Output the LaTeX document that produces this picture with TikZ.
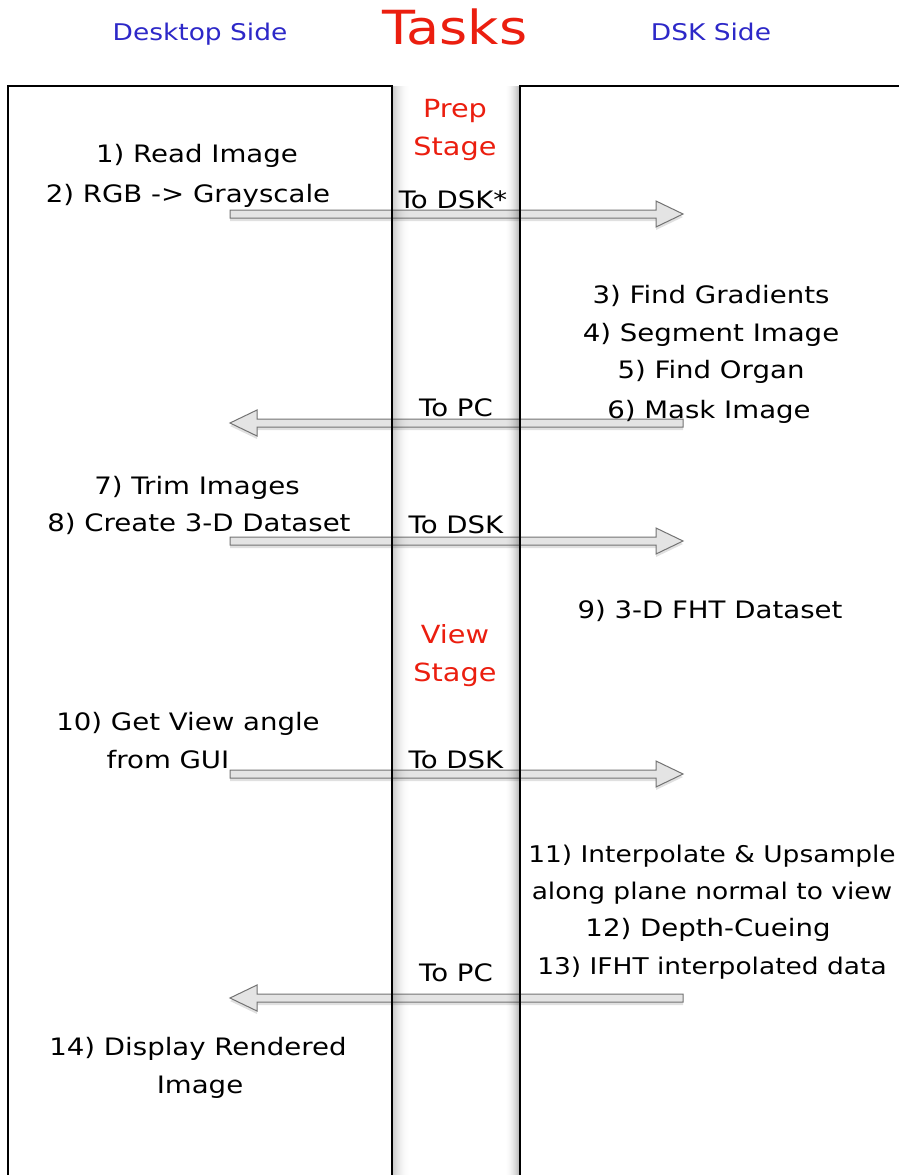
\documentclass[tikz,border=0pt]{standalone}
\usepackage{fontspec}
\setmainfont{DejaVu Sans}[FakeStretch=1.15]
\usetikzlibrary{calc}
\definecolor{headblue}{RGB}{45,40,200}
\definecolor{stagered}{RGB}{235,30,15}
\definecolor{arrowline}{RGB}{115,115,115}
\definecolor{arrowfill}{RGB}{228,228,228}

\begin{document}
\begin{tikzpicture}[x=1pt,y=-1pt,
  lbl/.style={font=\fontsize{24}{28}\selectfont, anchor=base, inner sep=0pt, text=black},
  lblwide/.style={lbl, font=\fontsize{23}{28}\selectfont},
  hdr/.style={font=\fontsize{23}{26}\selectfont, anchor=base, inner sep=0pt, text=headblue},
  stg/.style={font=\fontsize{25}{28}\selectfont, anchor=base, inner sep=0pt, text=stagered},
  chn/.style={font=\fontsize{24}{28}\selectfont, anchor=base, inner sep=0pt, text=black},
  ttl/.style={font=\fontsize{47}{52}\selectfont, anchor=base, inner sep=0pt, text=stagered},
  lane/.style={draw=black, line width=1.4pt},
  % hollow block arrow built from the two end points
  fatarrow/.style={to path={
      ($(\tikztostart)+(0,4)$) -- ($(\tikztotarget)!27pt!(\tikztostart)+(0,4)$)
      -- ($(\tikztotarget)!27pt!(\tikztostart)+(0,13)$) -- (\tikztotarget)
      -- ($(\tikztotarget)!27pt!(\tikztostart)+(0,-13)$)
      -- ($(\tikztotarget)!27pt!(\tikztostart)+(0,-4)$)
      -- ($(\tikztostart)+(0,-4)$) -- cycle}},
  msg/.style={fatarrow, draw=arrowline, fill=arrowfill, line width=1pt, line join=miter},
  msgshadow/.style={fatarrow, fill=black, opacity=0.12, draw=none},
]
\useasboundingbox (0,0) rectangle (898,1175);
\fill[white] (0,0) rectangle (898,1175);

% column headings
\node[hdr] (deskhead) at (200,40) {Desktop Side};
\node[ttl] (title) at (455,44) {Tasks};
\node[hdr] (dskhead) at (711,40) {DSK Side};

% message end points
\coordinate (a1s) at (230,214); \coordinate (a1e) at (683,214);
\coordinate (a2s) at (683,423); \coordinate (a2e) at (230,423);
\coordinate (a3s) at (230,541); \coordinate (a3e) at (683,541);
\coordinate (a4s) at (230,774); \coordinate (a4e) at (683,774);
\coordinate (a5s) at (683,998); \coordinate (a5e) at (230,998);

% messages between the two sides
\foreach \s/\e in {a1s/a1e,a2s/a2e,a3s/a3e,a4s/a4e,a5s/a5e}{
  \path[msgshadow, transform canvas={yshift=-3pt}] (\s) to (\e);
  \draw[msg] (\s) to (\e);
}

% inner shadows of the middle channel
\foreach \i in {0,...,17}{
  \fill[black, opacity={0.22*(1-\i/18)*(1-\i/18)}] (392+\i,86) rectangle (393+\i,1175);
}
\foreach \i in {0,...,14}{
  \fill[black, opacity={0.28*(1-\i/15)*(1-\i/15)}] (519-\i,86) rectangle (520-\i,1175);
}

% the two lanes
\draw[lane] (8,1185) -- (8,86) -- (392,86) -- (392,1185);
\draw[lane] (520,1185) -- (520,86) -- (910,86);

% stage labels
\node[stg] (prep) at (455,117) {Prep};
\node[stg] (prepstage) at (455,155) {Stage};
\node[stg] (view) at (455,643) {View};
\node[stg] (viewstage) at (455,681) {Stage};

% channel labels
\node[chn] (m1) at (453,208) {To DSK*};
\node[chn] (m2) at (456,416) {To PC};
\node[chn] (m3) at (456,533) {To DSK};
\node[chn] (m4) at (456,768) {To DSK};
\node[chn] (m5) at (456,981) {To PC};

% desktop tasks
\node[lbl] (t1) at (197,162) {1) Read Image};
\node[lbl] (t2) at (188,202) {2) RGB -> Grayscale};
\node[lbl] (t7) at (197,494) {7) Trim Images};
\node[lbl] (t8) at (199,531) {8) Create 3-D Dataset};
\node[lbl] (t10) at (188,730) {10) Get View angle};
\node[lbl] (t10b) at (168,768) {from GUI};
\node[lbl] (t14) at (198,1055) {14) Display Rendered};
\node[lbl] (t14b) at (200,1093) {Image};

% DSK tasks
\node[lbl] (t3) at (711,303) {3) Find Gradients};
\node[lbl] (t4) at (711,341) {4) Segment Image};
\node[lbl] (t5) at (711,378) {5) Find Organ};
\node[lbl] (t6) at (709,418) {6) Mask Image};
\node[lbl] (t9) at (710,618) {9) 3-D FHT Dataset};
\node[lblwide] (t11) at (712,862) {11) Interpolate \& Upsample};
\node[lblwide] (t11b) at (712,899) {along plane normal to view};
\node[lbl] (t12) at (708,936) {12) Depth-Cueing};
\node[lblwide] (t13) at (712,974) {13) IFHT interpolated data};
\end{tikzpicture}
\end{document}
